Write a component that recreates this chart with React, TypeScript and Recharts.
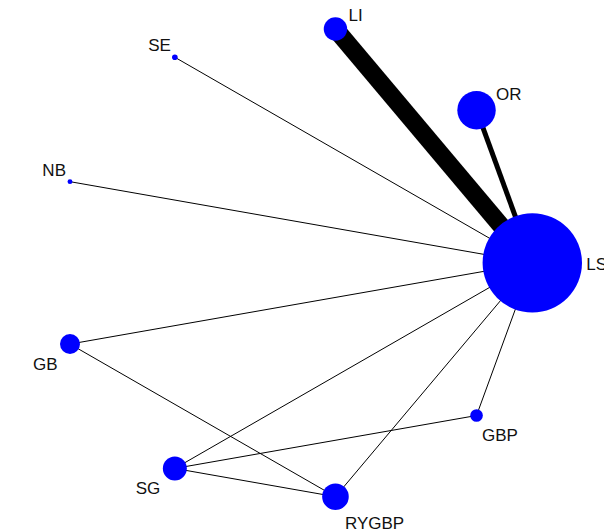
import React from 'react';
import { ScatterChart, Scatter, XAxis, YAxis, ZAxis } from 'recharts';

// treatments placed round a circle (unit-circle coordinates), node weight ~ marker area
const nodeNames = ['LI', 'OR', 'LS', 'GBP', 'RYGBP', 'SG', 'GB', 'NB', 'SE'];
const nodeX = [0.174, 0.766, 1, 0.766, 0.174, -0.5, -0.94, -0.94, -0.5];
const nodeY = [0.985, 0.643, 0, -0.643, -0.985, -0.866, -0.342, 0.342, 0.866];
const nodeWeight = [137, 369, 2470, 40, 177, 144, 100, 6, 8];

// direct comparisons, weight ~ line width
const edgeFrom = ['LI', 'OR', 'SE', 'NB', 'GB', 'GB', 'SG', 'SG', 'SG', 'RYGBP', 'GBP'];
const edgeTo = ['LS', 'LS', 'LS', 'LS', 'LS', 'RYGBP', 'LS', 'GBP', 'RYGBP', 'LS', 'LS'];
const edgeWeight = [18, 5, 1, 1, 1, 1, 1, 1, 1, 1, 1];

// label placement next to each marker (pixels)
const labelStyle: Record<string, { anchor: 'start' | 'end'; dx: number; dy: number }> = {
  LI: { anchor: 'start', dx: 13, dy: -8 },
  SE: { anchor: 'end', dx: -4, dy: -6 },
  OR: { anchor: 'start', dx: 19.5, dy: -10 },
  NB: { anchor: 'end', dx: -4, dy: -6 },
  LS: { anchor: 'start', dx: 54, dy: 7 },
  GB: { anchor: 'end', dx: -12.5, dy: 25.5 },
  GBP: { anchor: 'start', dx: 5.5, dy: 25.5 },
  SG: { anchor: 'end', dx: -14.5, dy: 25.5 },
  RYGBP: { anchor: 'start', dx: 9.5, dy: 32 },
};

const nodes = nodeNames.map((name, i) => ({ name, x: nodeX[i], y: nodeY[i], z: nodeWeight[i] }));
const nodeByName: Record<string, any> = Object.fromEntries(nodes.map(n => [n.name, n]));

const NodeShape = (props: any) => {
  const { cx, cy, size, width, payload } = props;
  const r = size != null ? Math.sqrt(size / Math.PI) : width / 2;
  const lab = labelStyle[payload.name];
  return (
    <g>
      <circle cx={cx} cy={cy} r={r} fill="#0000ff" />
      <text
        x={cx + lab.dx}
        y={cy + lab.dy}
        textAnchor={lab.anchor}
        fontSize={17}
        fill="#111"
        fontFamily="'Liberation Sans', Arial, sans-serif"
      >
        {payload.name}
      </text>
    </g>
  );
};

const NoShape = () => <g />;

const App: React.FC = () => {
  return (
    <div style={{ position: 'absolute', left: 0, top: 0, width: 604, height: 532, background: '#fff' }}>
      <ScatterChart width={604} height={532} margin={{ top: 0, right: 0, bottom: 0, left: 0 }}>
        <XAxis type="number" dataKey="x" domain={[-1.2337, 1.3009]} allowDataOverflow hide />
        <YAxis type="number" dataKey="y" domain={[-1.1337, 1.1072]} allowDataOverflow hide />
        <ZAxis type="number" dataKey="z" domain={[0, 2500]} range={[0, 2500 * Math.PI]} />
        {edgeFrom.map((from, i) => (
          <Scatter
            key={`${from}-${edgeTo[i]}`}
            data={[nodeByName[from], nodeByName[edgeTo[i]]]}
            line={{ stroke: '#000', strokeWidth: edgeWeight[i] }}
            stroke="#000"
            fill="none"
            shape={NoShape}
            legendType="none"
            isAnimationActive={false}
          />
        ))}
        <Scatter data={nodes} fill="#0000ff" shape={NodeShape} isAnimationActive={false} />
      </ScatterChart>
    </div>
  );
};

export default App;
